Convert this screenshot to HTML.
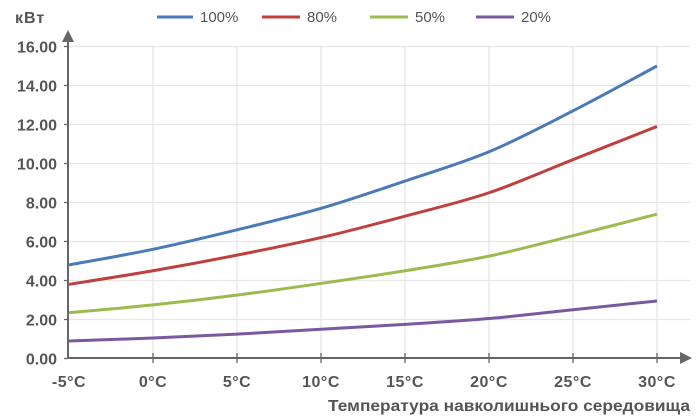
<!DOCTYPE html>
<html><head><meta charset="utf-8"><style>
body{margin:0;background:#fff;}
svg{display:block;font-family:"Liberation Sans",sans-serif;}
</style></head><body>
<svg id="s" width="700" height="420" viewBox="0 0 700 420">
<g stroke="#e6e6e6" stroke-width="1.3" id="grid"></g>
<g id="lab" font-size="16" font-weight="bold" fill="#555"></g>
<line x1="68" y1="358" x2="684" y2="358" stroke="#666" stroke-width="2"/>
<polygon points="692,358 680,352 680,364" fill="#666"/>
<line x1="68" y1="358" x2="68" y2="38" stroke="#666" stroke-width="2"/>
<polygon points="68,30 62,42 74,42" fill="#666"/>
<text x="15" y="23" font-size="16" font-weight="bold" fill="#555" letter-spacing="1">кВт</text>
<text x="690" y="411" font-size="16" font-weight="bold" fill="#555" text-anchor="end" textLength="362" lengthAdjust="spacingAndGlyphs">Температура навколишнього середовища</text>
<g font-size="15" fill="#555">
<line x1="157" y1="17" x2="193" y2="17" stroke="#4a7ab8" stroke-width="3"/><text x="200" y="22">100%</text>
<line x1="262" y1="17" x2="300" y2="17" stroke="#c0403f" stroke-width="3"/><text x="307" y="22">80%</text>
<line x1="370" y1="17" x2="408" y2="17" stroke="#9bbb4f" stroke-width="3"/><text x="415" y="22">50%</text>
<line x1="476" y1="17" x2="514" y2="17" stroke="#7a59a0" stroke-width="3"/><text x="521" y="22">20%</text>
</g>
<g id="ser" fill="none" stroke-width="3"></g>
</svg>
<script>
var ns="http://www.w3.org/2000/svg";
function el(p,t,a,txt){var e=document.createElementNS(ns,t);for(var k in a)e.setAttribute(k,a[k]);if(txt)e.textContent=txt;document.getElementById(p).appendChild(e);}
function X(i){return 69+i*84;} function Y(v){return 358.5-v*19.5;}
for(var v=2;v<=16;v+=2){el("grid","line",{x1:68,x2:690,y1:Y(v),y2:Y(v)});}
for(var i=1;i<8;i++){el("grid","line",{x1:X(i),x2:X(i),y1:46,y2:358});el("grid","line",{x1:X(i),x2:X(i),y1:353,y2:363,stroke:"#666"});}
for(var v=0;v<=16;v+=2){el("lab","text",{x:57,y:Y(v)+6,"text-anchor":"end"},v.toFixed(2));el("grid","line",{x1:64,x2:68,y1:Y(v),y2:Y(v),stroke:"#666"});}
var xl=["-5°C","0°C","5°C","10°C","15°C","20°C","25°C","30°C"];
for(var i=0;i<8;i++)el("lab","text",{x:X(i),y:387,"text-anchor":"middle","letter-spacing":"0.5"},xl[i]);
var S=[["#4a7ab8",[4.8,5.6,6.6,7.7,9.1,10.6,12.7,15.0]],["#c0403f",[3.8,4.5,5.3,6.2,7.3,8.5,10.2,11.9]],["#9bbb4f",[2.35,2.75,3.25,3.85,4.5,5.25,6.3,7.4]],["#7a59a0",[0.9,1.05,1.25,1.5,1.75,2.05,2.5,2.95]]];
S.forEach(function(s){var p=s[1].map(function(v,i){return [X(i),Y(v)]});var d="M"+p[0];
for(var i=0;i<p.length-1;i++){var a=p[i-1]||p[i],b=p[i],c=p[i+1],e=p[i+2]||c;
d+=" C"+(b[0]+(c[0]-a[0])/6)+","+(b[1]+(c[1]-a[1])/6)+" "+(c[0]-(e[0]-b[0])/6)+","+(c[1]-(e[1]-b[1])/6)+" "+c;}
el("ser","path",{d:d,stroke:s[0]});});
</script>
</body></html>
